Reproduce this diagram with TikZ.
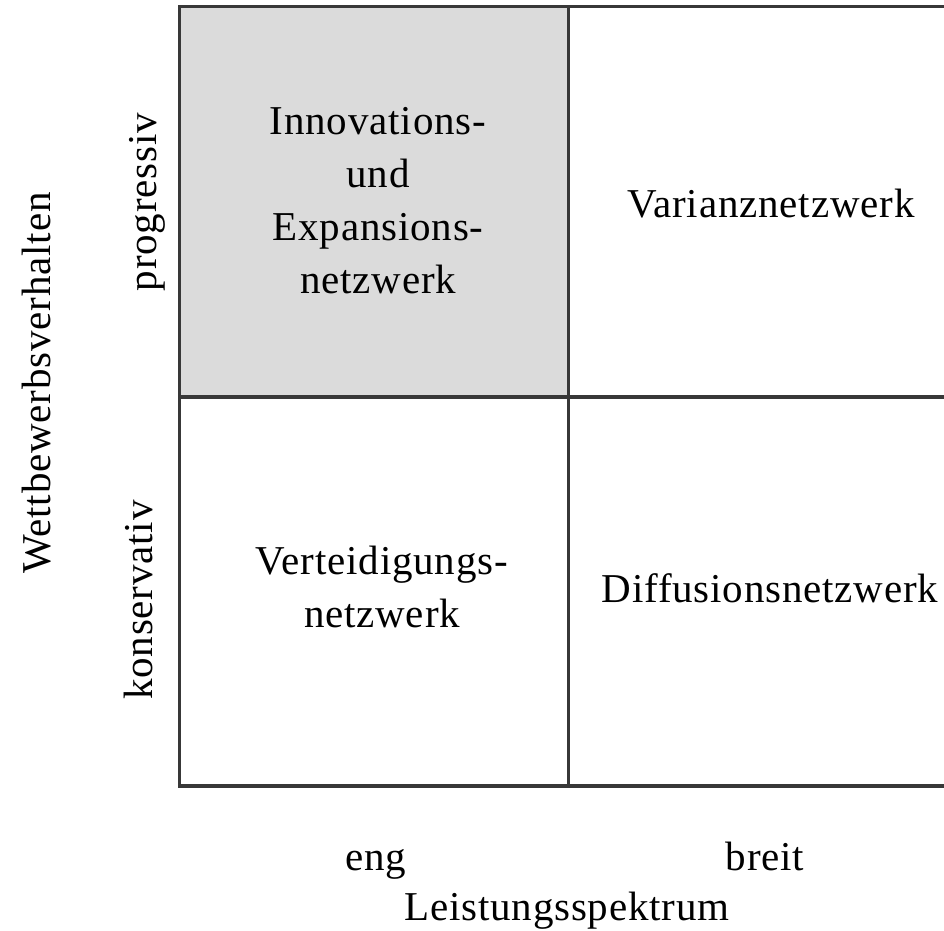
\documentclass[tikz,border=0pt]{standalone}
\usepackage{fontspec}
\setmainfont{Liberation Serif}[LetterSpace=2]
\begin{document}
\begin{tikzpicture}[x=1pt,y=-1pt,
  gridline/.style={line width=3.2pt, draw=black!78},
  celltext/.style={font=\fontsize{41}{53}\selectfont, align=center, inner sep=0pt},
  axtext/.style={font=\fontsize{41}{53}\selectfont, inner sep=0pt, anchor=base}]
\useasboundingbox (0,0) rectangle (944,930);
\fill[fill=black!14] (180,6) rectangle (568,397);
% grid corners
\coordinate (tl) at (179.5,5);
\coordinate (tm) at (568.5,5);
\coordinate (tr) at (944,6.5);
\coordinate (ml) at (179.5,397);
\coordinate (mr) at (944,397);
\coordinate (bl) at (179.5,788);
\coordinate (bm) at (568.5,788);
\coordinate (br) at (944,786);
\draw[gridline] (178,6.5) -- (tr);
\draw[gridline] (tl) -- (bl);
\draw[gridline] (tm) -- (bm);
\draw[gridline] (178,397) -- (mr);
\draw[gridline] (178,786) -- (br);
% cell texts
\node[celltext] (ie) at (378,201) {Innovations-\\und\\Expansions-\\netzwerk};
\node[celltext] (vn) at (771,204) {Varianznetzwerk};
\node[celltext] (vt) at (382,587) {Verteidigungs-\\netzwerk};
\node[celltext] (dn) at (770,588) {Diffusionsnetzwerk};
% axis labels
\node[axtext, rotate=90] (prog) at (156,202) {progressiv};
\node[axtext, rotate=90] (kons) at (152,600) {konservativ};
\node[axtext, rotate=90] (wett) at (50,383) {Wettbewerbsverhalten};
\node[axtext] (eng) at (376,870) {eng};
\node[axtext] (breit) at (765,870) {breit};
\node[axtext] (leist) at (567,920) {Leistungsspektrum};
\end{tikzpicture}
\end{document}
